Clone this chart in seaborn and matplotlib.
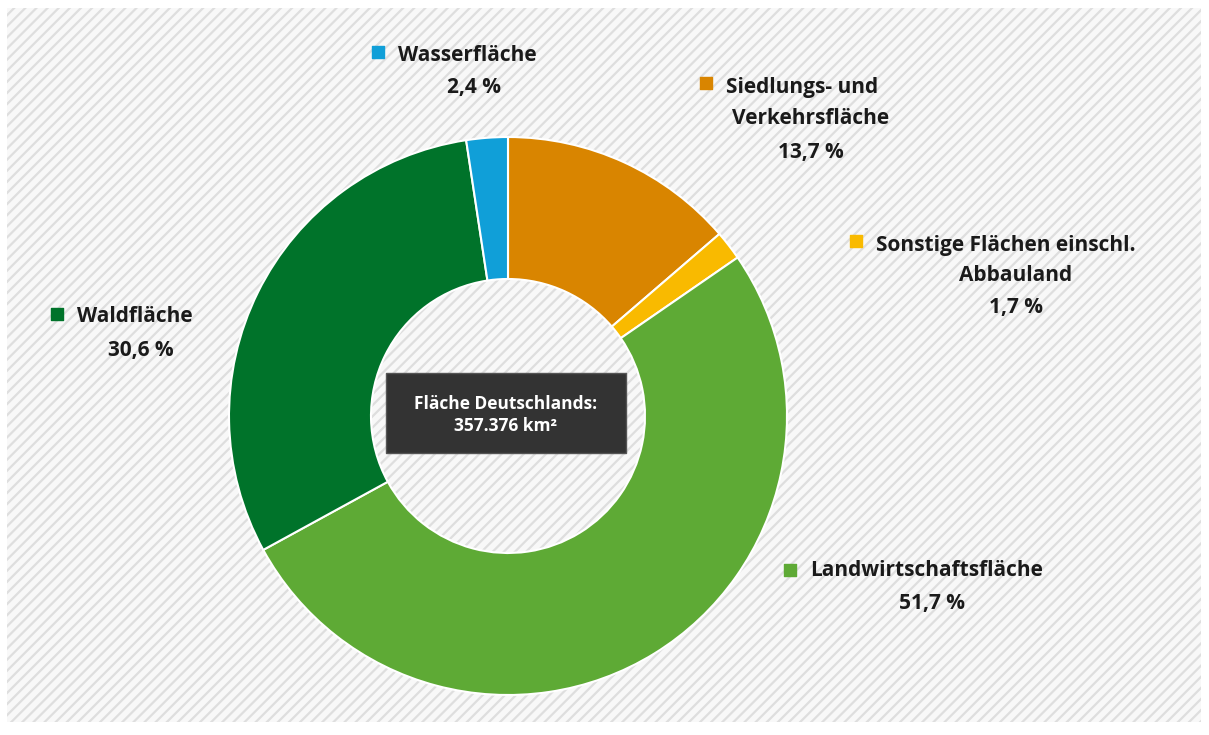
import matplotlib.pyplot as plt
import matplotlib.patches as mpatches
import seaborn as sns

# Daten: Flächennutzung Deutschland (Anteile in %)
kategorien = ["Siedlungs- und\nVerkehrsfläche", "Sonstige Flächen einschl.\nAbbauland",
              "Landwirtschaftsfläche", "Waldfläche", "Wasserfläche"]
anteile = [13.7, 1.7, 51.7, 30.6, 2.4]
anteil_labels = ["13,7 %", "1,7 %", "51,7 %", "30,6 %", "2,4 %"]
farben = ["#D98500", "#F9BA00", "#5EAA35", "#00732A", "#109FD8"]
gesamt_text = "Fläche Deutschlands:\n357.376 km²"

sns.set_theme(style="white")
plt.rcParams["font.family"] = ["Open Sans", "DejaVu Sans"]
plt.rcParams["hatch.linewidth"] = 1.6

W, H = 1209, 735
fig = plt.figure(figsize=(W / 100, H / 100), dpi=100, facecolor="white")
ax = fig.add_axes([0, 0, 1, 1])

# gestreifter Hintergrund
bg = mpatches.Rectangle((7, H - 722), 1194, 714, facecolor="#F8F8F8",
                        edgecolor="#DEDEDE", hatch="///", lw=0, zorder=0)
ax.add_patch(bg)

# Ringdiagramm
ax.pie(anteile, colors=farben, startangle=90, counterclock=False,
       center=(508, H - 416), radius=279,
       wedgeprops=dict(width=142, edgecolor="white", linewidth=1.5), frame=True)
ax.set_xlim(0, W)
ax.set_ylim(0, H)
ax.set_aspect("equal")
ax.axis("off")

# Beschriftungen: Quadrat x, y, Textzentrum x, Zeilen y
pos = [
    (706, 83, 811, [87, 118, 152]),
    (856, 241, 1016, [245, 275, 307]),
    (790, 570, 932, [571, 603]),
    (57, 314, 141, [316, 350]),
    (378, 52, 474, [55, 87]),
]
for kat, lab, col, (sx, sy, tx, ys) in zip(kategorien, anteil_labels, farben, pos):
    zeilen = kat.split("\n") + [lab]
    ax.scatter([sx], [H - sy], marker="s", s=70, color=col, zorder=5)
    for i, (z, y) in enumerate(zip(zeilen, ys)):
        if i == 0:
            ax.text(sx + 20, H - y, z, ha="left", va="center", fontsize=15,
                    fontweight="bold", color="#1A1A1A")
        else:
            ax.text(tx, H - y, z, ha="center", va="center", fontsize=15,
                    fontweight="bold", color="#1A1A1A")

# Kasten in der Mitte
box = mpatches.Rectangle((386, H - 453), 240, 80, facecolor="#333333",
                         edgecolor="#555555", lw=1, zorder=6)
ax.add_patch(box)
ax.text(506, H - 415, gesamt_text, ha="center", va="center", fontsize=12.5,
        fontweight="bold", color="white", linespacing=1.3, zorder=7)

fig.savefig("out.png", dpi=100, facecolor="white")
